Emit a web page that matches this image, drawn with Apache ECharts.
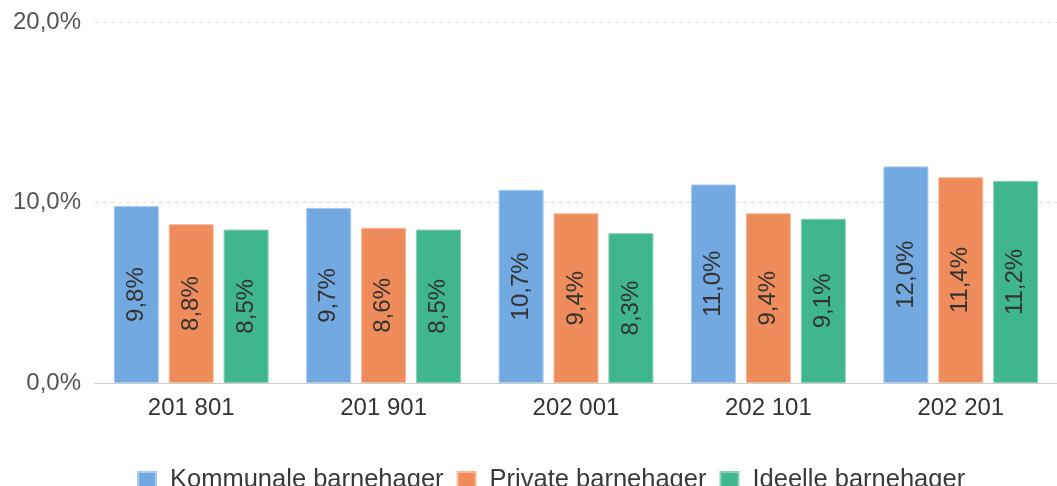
<!DOCTYPE html>
<html>
<head>
<meta charset="utf-8">
<script src="https://cdn.jsdelivr.net/npm/echarts@6/dist/echarts.min.js"></script>
<style>
  html, body { margin: 0; padding: 0; background: #fff; }
  #chart { width: 1057px; height: 486px; }
</style>
</head>
<body>
<div id="chart"></div>
<script>
var categories = ['201\u00a0801', '201\u00a0901', '202\u00a0001', '202\u00a0101', '202\u00a0201'];
var seriesNames = ['Kommunale barnehager', 'Private barnehager', 'Ideelle barnehager'];
var kommunale = [9.8, 9.7, 10.7, 11.0, 12.0];
var privat = [8.8, 8.6, 9.4, 9.4, 11.4];
var ideelle = [8.5, 8.5, 8.3, 9.1, 11.2];
var colors = ['#72a9e1', '#f08c5b', '#3fb68b'];
var borders = ['#a8cbef', '#f6b999', '#85d2b5'];

function pct(v) {
  return v.toFixed(1).replace('.', ',') + '%';
}

var font = 'Liberation Sans, Arial, sans-serif';
var allData = [kommunale, privat, ideelle];
var series = [];
for (var i = 0; i < seriesNames.length; i++) {
  series.push({
    name: seriesNames[i],
    type: 'bar',
    data: allData[i],
    barWidth: 45,
    barGap: '22%',
    itemStyle: { color: colors[i], borderColor: borders[i], borderWidth: 1 },
    label: {
      show: true,
      position: 'inside',
      rotate: 90,
      align: 'center',
      verticalAlign: 'middle',
      fontSize: 24,
      fontFamily: font,
      color: '#333',
      formatter: function (p) { return pct(p.value); }
    }
  });
}

var chart = echarts.init(document.getElementById('chart'));
chart.setOption({
  animation: false,
  color: colors,
  textStyle: { fontFamily: font },
  grid: { left: 95, top: 22, width: 966, bottom: 103, containLabel: false },
  legend: {
    data: seriesNames,
    left: 132,
    top: 462,
    icon: 'rect',
    itemWidth: 18,
    itemHeight: 16,
    itemGap: 13,
    textStyle: { fontSize: 25.5, color: '#3a3a3a', fontFamily: font, padding: [0, 0, 0, 9] }
  },
  xAxis: {
    type: 'category',
    data: categories,
    axisLine: { lineStyle: { color: '#ccc' } },
    axisTick: { length: 8, lineStyle: { color: '#ccc' } },
    axisLabel: { fontSize: 24, color: '#333', margin: 13, fontFamily: font }
  },
  yAxis: {
    type: 'value',
    min: 0,
    max: 20,
    interval: 10,
    axisLine: { show: false },
    axisTick: { show: false },
    axisLabel: {
      fontSize: 24, color: '#555', margin: 14, fontFamily: font,
      formatter: function (v) { return pct(v); }
    },
    splitLine: { lineStyle: { color: '#ddd', type: [4, 4] } }
  },
  series: series
});
</script>
</body>
</html>
